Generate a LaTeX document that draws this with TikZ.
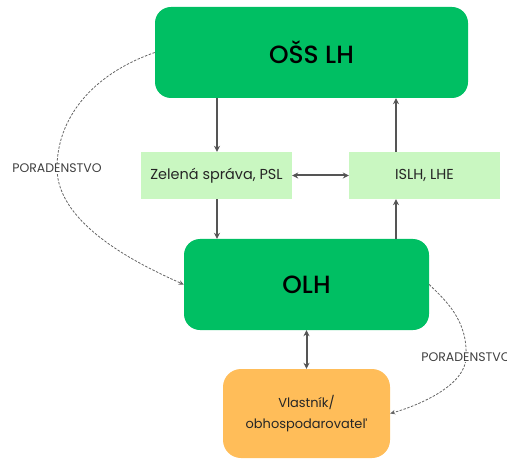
\documentclass[tikz,border=0pt]{standalone}
\usepackage{fontspec}
\setmainfont{Poppins}
\newfontfamily\medfont{Poppins Medium}
\usetikzlibrary{arrows.meta}
\definecolor{dgreen}{HTML}{00BF63}
\definecolor{lgreen}{HTML}{C9F7C1}
\definecolor{orng}{HTML}{FFBD59}
\definecolor{arr}{HTML}{555555}
\tikzset{
  bigbox/.style={fill=dgreen, rounded corners=16bp, inner sep=0pt, font=\fontsize{25}{30}\medfont},
  midbox/.style={fill=lgreen, inner sep=0pt, font=\fontsize{14.5}{17}\selectfont, text=black!85},
  ownbox/.style={fill=orng, rounded corners=18bp, inner sep=0pt, align=center, font=\fontsize{13}{21}\selectfont, text=black!85},
  flow/.style={draw=arr, line width=2bp, -{Stealth[length=6bp,width=6bp]}},
  flow2/.style={draw=arr, line width=2bp, {Stealth[length=6bp,width=6bp]}-{Stealth[length=6bp,width=6bp]}},
  advice/.style={draw=arr!90, line width=0.8bp, dashed, dash pattern=on 2.5bp off 1.5bp, -{Stealth[length=5bp,width=4.5bp]}},
  lbl/.style={fill=white, inner sep=1bp, font=\fontsize{12.5}{14}\selectfont, text=black!75}
}
\begin{document}
\begin{tikzpicture}[x=1bp,y=-1bp]
\useasboundingbox (0,0) rectangle (507,459);
\node[bigbox, minimum width=313bp, minimum height=91bp] (oss) at (311.5,52.5) {OŠS LH};
\node[midbox, minimum width=151bp, minimum height=47bp] (zel) at (216.5,175.5) {Zelená správa, PSL};
\node[midbox, minimum width=151bp, minimum height=47bp] (islh) at (424.5,175.5) {ISLH, LHE};
\node[bigbox, minimum width=245bp, minimum height=91bp] (olh) at (306.5,284.5) {OLH};
\node[ownbox, minimum width=167bp, minimum height=89bp] (own) at (306.5,413.5) {Vlastník/\\obhospodarovateľ};
\draw[flow] (oss.south -| 217,0) -- (zel.north -| 217,0);
\draw[flow] (zel.south -| 217,0) -- (olh.north -| 217,0);
\draw[flow] (olh.north -| 396,0) -- (islh.south -| 396,0);
\draw[flow] (islh.north -| 396,0) -- (oss.south -| 396,0);
\draw[flow2] (zel.east) -- (islh.west);
\draw[flow2] (olh.south) -- (own.north);
\coordinate (l1) at (57,168);
\draw[advice] (oss.west) .. controls (90,75) and (57,120) .. (l1) .. controls (57,225) and (140,265) .. (olh.west);
\node[lbl] (p1) at (l1) {PORADENSTVO};
\coordinate (r1) at (466,357);
\draw[advice] (olh.east) .. controls (445,300) and (468,320) .. (r1) .. controls (466,385) and (420,405) .. (own.east);
\node[lbl] (p2) at (r1) {PORADENSTVO};
\end{tikzpicture}
\end{document}
